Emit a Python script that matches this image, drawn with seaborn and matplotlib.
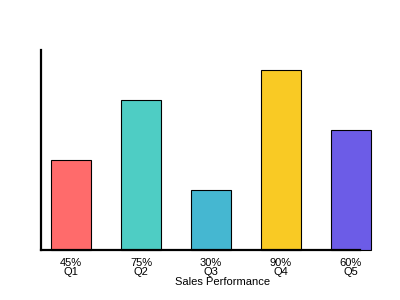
import matplotlib
matplotlib.use("Agg")
import matplotlib.pyplot as plt
import seaborn as sns
import pandas as pd

categories = ["Q1", "Q2", "Q3", "Q4", "Q5"]
values = [45, 75, 30, 90, 60]
colors = ["#FF6B6B", "#4ECDC4", "#45B7D1", "#F9CA24", "#6C5CE7"]
tick_labels = [f"{v}%\n{c}" for v, c in zip(values, categories)]

sns.set_style("white")
plt.rcParams['font.family'] = ['Liberation Sans Narrow', 'Liberation Sans', 'DejaVu Sans']

df = pd.DataFrame({"cat": categories, "val": values})

fig = plt.figure(figsize=(4, 3), dpi=100)
ax = fig.add_axes([41/400, 50/300, (360-41)/400, 200/300])
sns.barplot(data=df, x="cat", y="val", hue="cat", palette=colors, legend=False,
            width=40/70, edgecolor="black", linewidth=0.8, saturation=1, ax=ax)
for p in ax.patches:
    p.set_clip_on(False)
ax.set_xlim(-30/70, 4 + 9/70)
ax.set_ylim(0, 100)
ax.set_yticks([])
ax.set_ylabel("")
ax.set_xticks(range(len(categories)))
ax.set_xticklabels(tick_labels, fontsize=8, linespacing=0.85, color="black")
ax.tick_params(axis="x", length=0, pad=6)
ax.set_xlabel("Sales Performance", fontsize=8, color="black")
ax.xaxis.set_label_coords((223 - 41) / 319, -27 / 200)
for s in ["top", "right"]:
    ax.spines[s].set_visible(False)
for s in ["left", "bottom"]:
    ax.spines[s].set_color("black")
    ax.spines[s].set_linewidth(1.6)
fig.savefig("out.png", dpi=100)
